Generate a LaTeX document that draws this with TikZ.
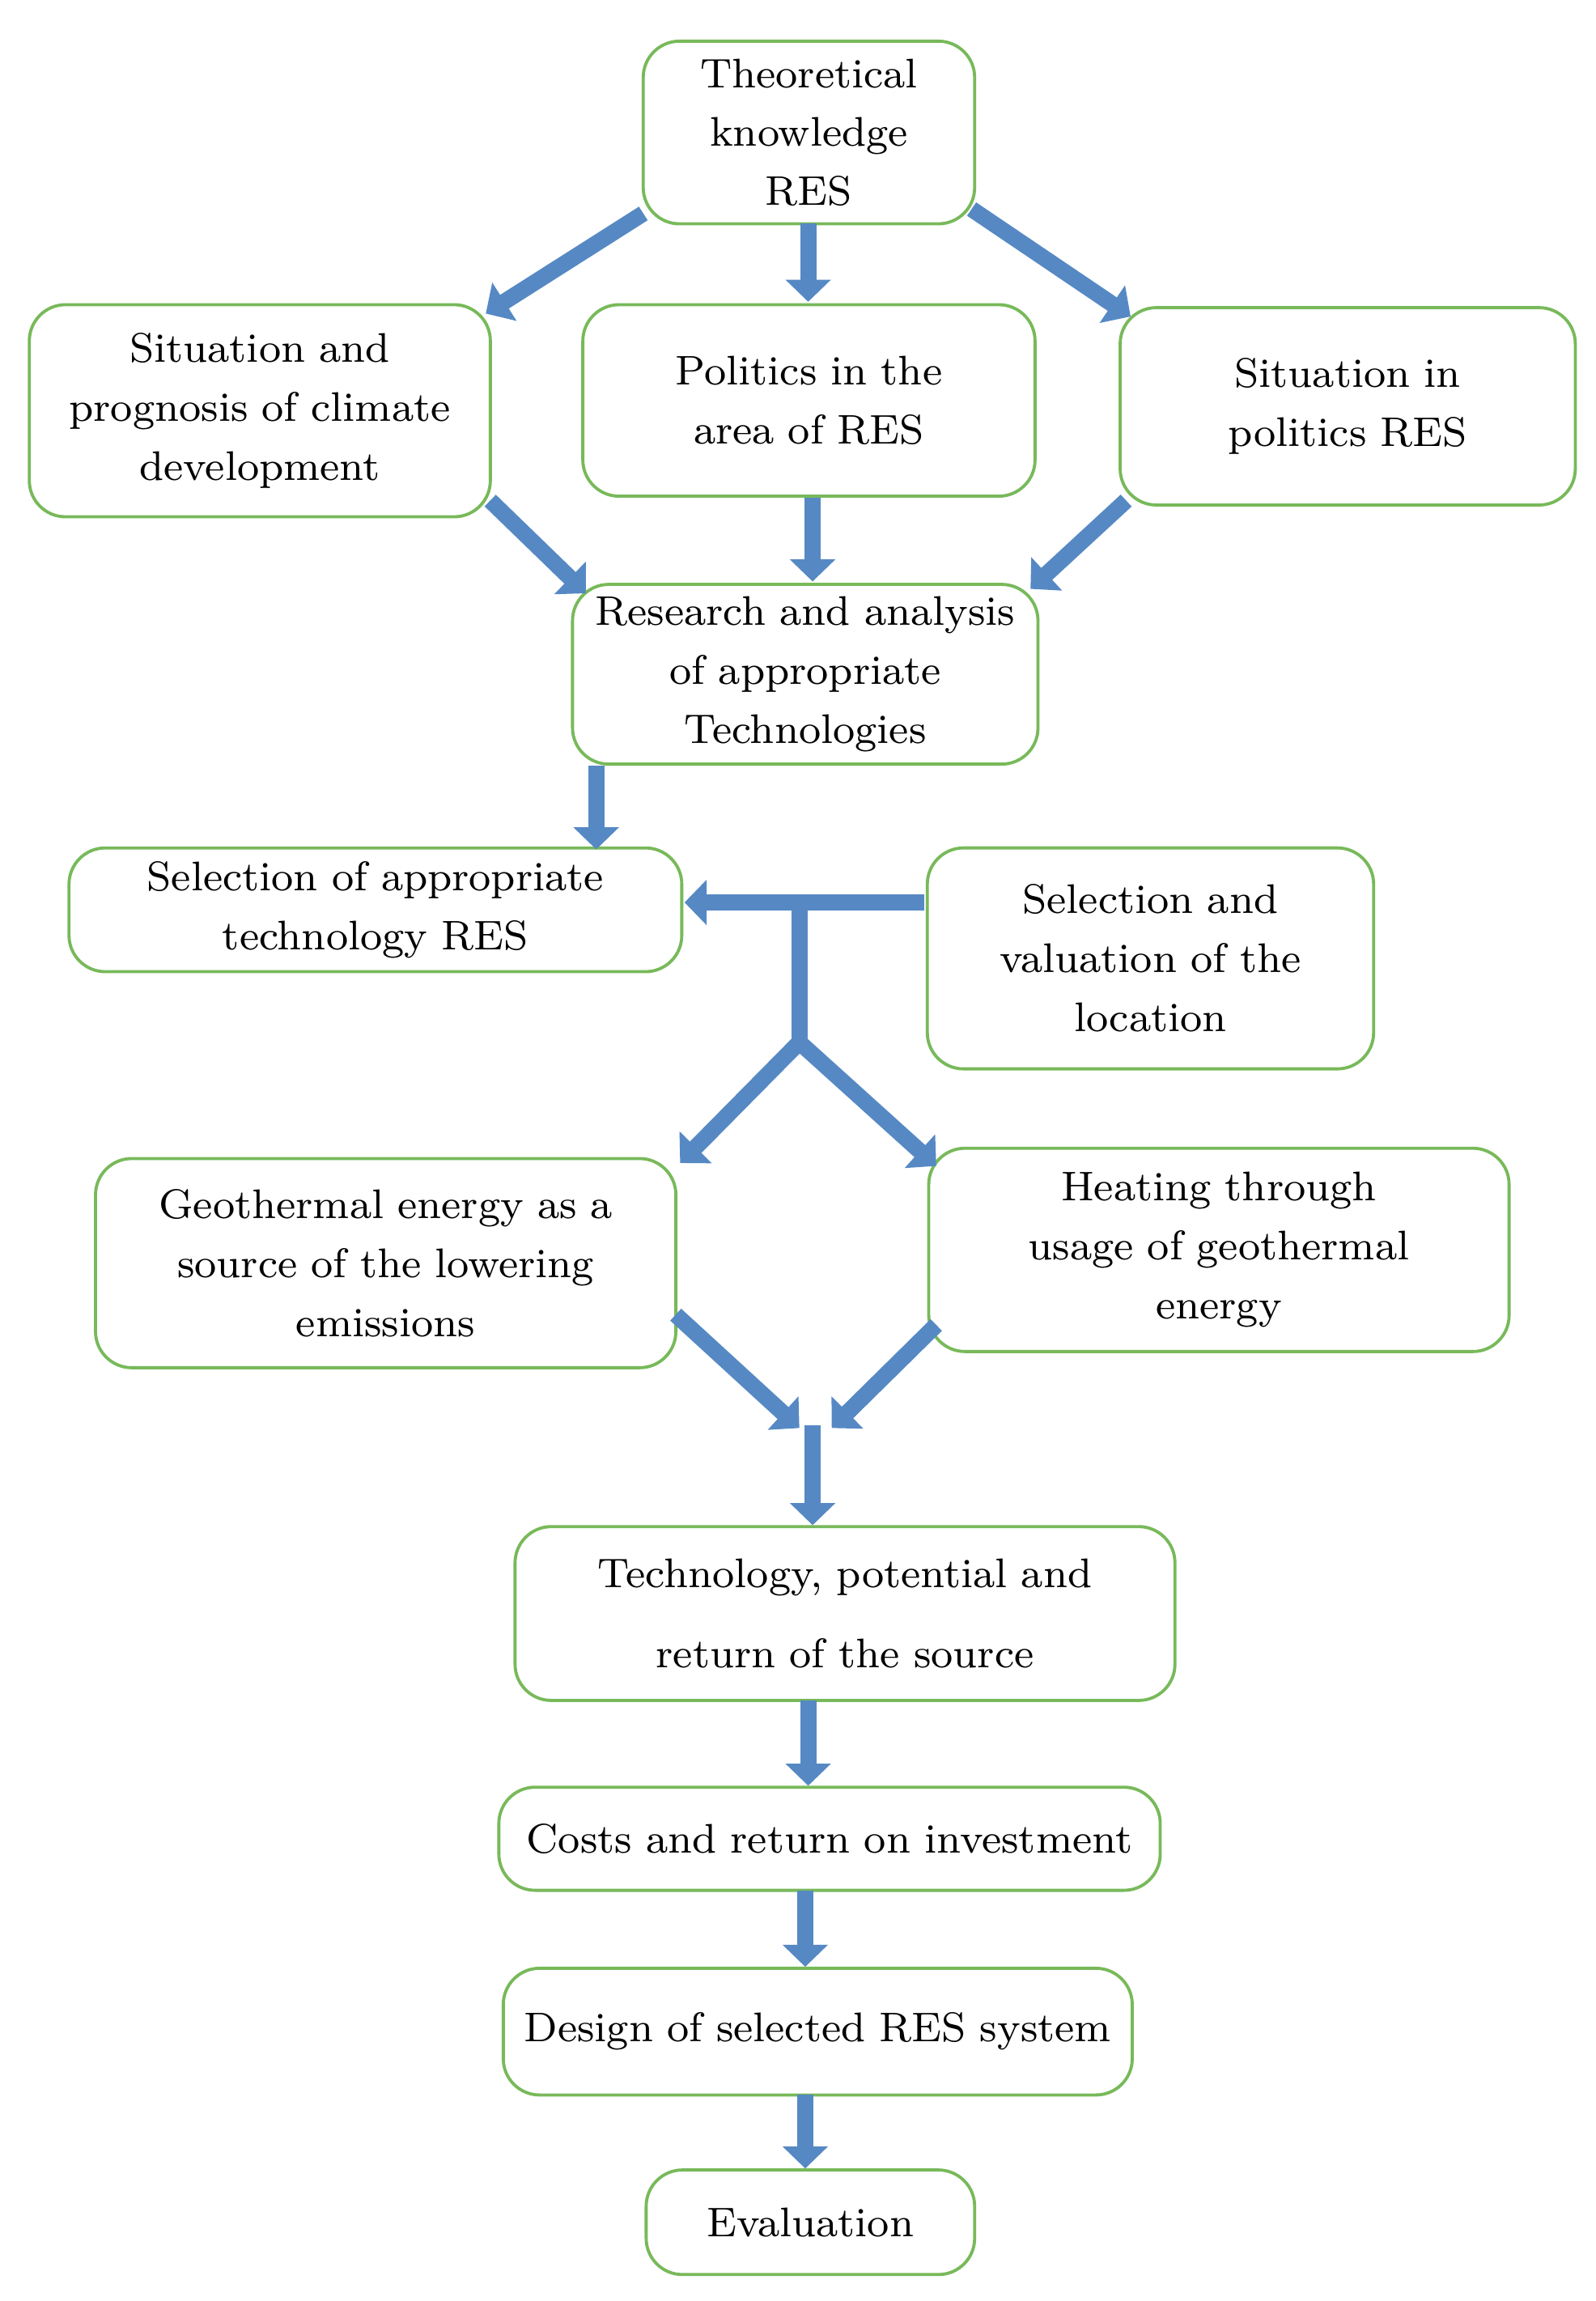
\documentclass[tikz,border=0pt]{standalone}
\usetikzlibrary{arrows.meta}
\definecolor{ab}{RGB}{86,137,196}
\definecolor{gb}{RGB}{120,185,90}
\begin{document}
\begin{tikzpicture}[x=0.01cm,y=-0.01cm,
  box/.style={draw=gb, line width=0.6pt, rounded corners=7pt, align=center, inner sep=1pt,
    font=\fontsize{8}{11.4}\selectfont},
  arr/.style={draw=ab, line width=0.11cm, -{Triangle[width=0.3cm,length=0.15cm]}},
  seg/.style={draw=ab, line width=0.11cm}]
\useasboundingbox (0,0) rectangle (1084,1563);
\newcommand\bx[6]{\pgfmathsetmacro\bw{(#4-#2)*0.284528}\pgfmathsetmacro\bh{(#5-#3)*0.284528}\pgfmathsetmacro\tw{(#4-#2-8)*0.284528}%
\node[box, minimum width=\bw pt, minimum height=\bh pt, text width=\tw pt] (#1) at ({(#2+#4)/2},{(#3+#5)/2}) {#6};}
\bx{t}{437}{28}{662}{152}{Theoretical\\knowledge\\RES}
\bx{s}{20}{207}{333}{351}{Situation and\\prognosis of climate\\development}
\bx{p}{396}{207}{703}{337}{Politics in the\\area of RES}
\bx{sp}{761}{209}{1070}{343}{Situation in\\politics RES}
\bx{r}{389}{397}{705}{519}{Research and analysis\\of appropriate\\Technologies}
\bx{st}{47}{576}{463}{660}{Selection of appropriate\\technology RES}
\bx{sv}{630}{576}{933}{726}{Selection and\\valuation of the\\location}
\bx{g}{65}{787}{459}{929}{Geothermal energy as a\\source of the lowering\\emissions}
\bx{h}{631}{780}{1025}{918}{Heating through\\usage of geothermal\\energy}
\bx{tp}{350}{1037}{798}{1155}{Technology, potential and\\[4pt]return of the source}
\bx{c}{339}{1214}{788}{1284}{Costs and return on investment}
\bx{d}{342}{1337}{769}{1423}{Design of selected RES system}
\bx{e}{439}{1474}{662}{1545}{Evaluation}
\coordinate (j1) at (543,613);
\coordinate (j2) at (543,708);
\coordinate (m) at (552,968);
\draw[arr] (437,145) -- (330,213);
\draw[arr] (549,152) -- (549,205);
\draw[arr] (660,142) -- (768,215);
\draw[arr] (333,340) -- (398,403);
\draw[arr] (552,338) -- (552,395);
\draw[arr] (765,340) -- (700,400);
\draw[arr] (405,520) -- (405,577);
\draw[arr] (628,613) -- (465,613);
\draw[seg] (j1) -- (j2);
\draw[arr] (j2) -- (462,790);
\draw[arr] (j2) -- (636,792);
\draw[arr] (459,893) -- (543,970);
\draw[arr] (636,900) -- (565,970);
\draw[arr] (m) -- (552,1036);
\draw[arr] (549,1155) -- (549,1213);
\draw[arr] (547,1284) -- (547,1336);
\draw[arr] (547,1423) -- (547,1473);
\end{tikzpicture}
\end{document}
